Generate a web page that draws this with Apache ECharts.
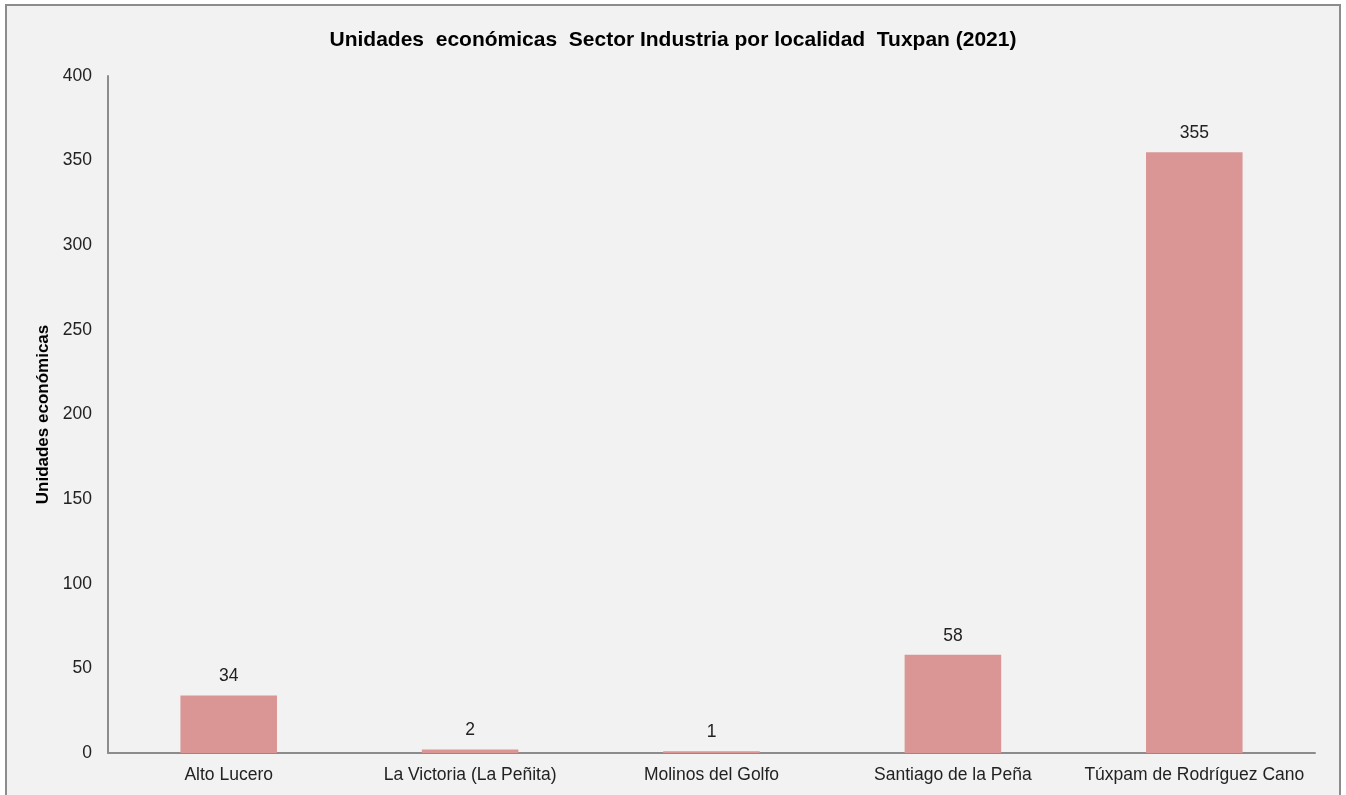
<!DOCTYPE html>
<html>
<head>
<meta charset="utf-8">
<script src="https://cdn.jsdelivr.net/npm/echarts@6/dist/echarts.min.js"></script>
<style>
  html, body { margin: 0; padding: 0; background: #ffffff; }
  #main { width: 1346px; height: 795px; }
</style>
</head>
<body>
<div id="main"></div>
<script>
var localidades = ['Alto Lucero', 'La Victoria (La Peñita)', 'Molinos del Golfo', 'Santiago de la Peña', 'Túxpam de Rodríguez Cano'];
var unidades = [34, 2, 1, 58, 355];
var yTicks = [0, 50, 100, 150, 200, 250, 300, 350, 400];

var myChart = echarts.init(document.getElementById('main'));
var fontFam = '"Liberation Sans", Arial, sans-serif';

var option = {
    backgroundColor: '#ffffff',
    textStyle: { fontFamily: fontFam },
    graphic: [{
        type: 'rect',
        z: -10,
        shape: { x: 6, y: 5, width: 1334, height: 800 },
        style: { fill: '#f2f2f2', stroke: '#8c8c8c', lineWidth: 2 }
    }],
    title: {
        text: 'Unidades  económicas  Sector Industria por localidad  Tuxpan (2021)',
        left: 'center',
        top: 25,
        textStyle: { fontSize: 21, fontWeight: 'bold', color: '#000', fontFamily: fontFam }
    },
    grid: { left: 108, right: 31, top: 76, bottom: 42 },
    xAxis: {
        type: 'category',
        data: localidades,
        axisTick: { show: false },
        axisLine: { lineStyle: { color: '#8c8c8c', width: 2 } },
        axisLabel: { color: '#222', fontSize: 17.5, margin: 13, interval: 0, fontFamily: fontFam }
    },
    yAxis: {
        type: 'value',
        min: yTicks[0],
        max: yTicks[yTicks.length - 1],
        interval: 50,
        name: 'Unidades económicas',
        nameLocation: 'middle',
        nameGap: 55,
        nameTextStyle: { fontSize: 17, fontWeight: 'bold', color: '#000', fontFamily: fontFam },
        axisLine: { show: true, lineStyle: { color: '#8c8c8c', width: 2 } },
        axisTick: { show: false },
        splitLine: { show: false },
        axisLabel: { color: '#222', fontSize: 17.5, margin: 16, fontFamily: fontFam }
    },
    series: [{
        type: 'bar',
        data: unidades,
        barWidth: '40%',
        itemStyle: { color: '#d99694' },
        label: {
            show: true,
            position: 'top',
            distance: 10,
            color: '#222',
            fontSize: 17.5,
            fontFamily: fontFam
        }
    }]
};

myChart.setOption(option);
</script>
</body>
</html>
